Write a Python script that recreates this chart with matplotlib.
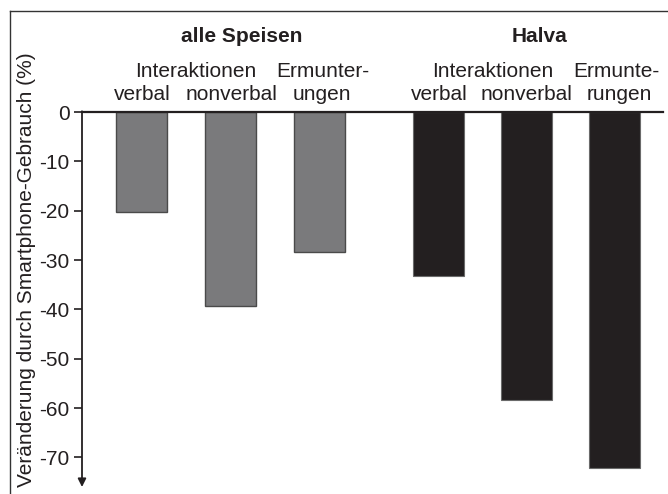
import matplotlib
matplotlib.use("Agg")
import matplotlib.pyplot as plt
from matplotlib.lines import Line2D

# data
groups = ["alle Speisen", "Halva"]
categories = ["verbal", "nonverbal", "Ermunterungen"]
alle_speisen = [-20.3, -39.4, -28.4]
halva = [-33.3, -58.4, -72.2]
yticks = [0, -10, -20, -30, -40, -50, -60, -70]
ylabel = "Veränderung durch Smartphone-Gebrauch (%)"

plt.rcParams["font.family"] = ["Liberation Sans", "DejaVu Sans"]
plt.rcParams["font.size"] = 15

fig = plt.figure(figsize=(6.68, 4.94), dpi=100)
W, H = 668, 494
ax = fig.add_axes([82 / W, 1 - 487 / H, (663 - 82) / W, (487 - 112) / H])

# bar positions (1 unit = 89 px)
pos_left = [0.669, 1.669, 2.669]
pos_right = [4.006, 4.994, 5.983]
bw = 0.573

ax.bar(pos_left, alle_speisen, width=bw, color="#7a7a7c", edgecolor="#4a4a4a", linewidth=1.0, zorder=2)
ax.bar(pos_right, halva, width=bw, color="#231f20", edgecolor="#6a6a6a", linewidth=0.8, zorder=2)

ax.set_xlim(0, 6.528)
ax.set_ylim(-76, 0)
ax.axhline(0, color="#231f20", lw=1.6, zorder=3, clip_on=False)

for s in ["top", "right", "bottom", "left"]:
    ax.spines[s].set_visible(False)
ax.set_xticks([])
ax.set_yticks(yticks)
ax.set_yticklabels([str(t) for t in yticks], color="#231f20")
ax.tick_params(axis="y", direction="out", length=6, width=1.2, color="#231f20", pad=3)

# y axis with arrow
ax.annotate("", xy=(0, -76), xytext=(0, 0.15), xycoords="data",
            arrowprops=dict(arrowstyle="-|>", color="#231f20", lw=1.3,
                            mutation_scale=12, shrinkA=0, shrinkB=0),
            annotation_clip=False)

# labels above bars (x in bar units, y in pixels from top)
def label(x, ypx, s, bold=False):
    xf = (82 + x * 89) / W
    fig.text(xf, 1 - ypx / H, s, ha="center", va="baseline",
             fontweight="bold" if bold else "normal", color="#231f20")

label(1.798, 42, groups[0], bold=True)
label(5.146, 42, groups[1], bold=True)

label(1.281, 77, "Interaktionen")
label(0.674, 100, "verbal")
label(1.685, 100, "nonverbal")
label(2.708, 77, "Ermunter-")
label(2.70, 100, "ungen")

label(4.618, 77, "Interaktionen")
label(4.017, 100, "verbal")
label(4.989, 100, "nonverbal")
label(6.0, 77, "Ermunte-")
label(6.034, 100, "rungen")

fig.text(27 / W, 1 - 270 / H, ylabel, rotation=90, ha="center", va="center", color="#231f20")

# frame around figure (cut at right and bottom)
fig.add_artist(Line2D([10 / W, 10 / W], [0, 1 - 11 / H], transform=fig.transFigure, color="#333333", lw=1.0))
fig.add_artist(Line2D([10 / W, 1], [1 - 11 / H, 1 - 11 / H], transform=fig.transFigure, color="#333333", lw=1.0))

fig.savefig("out.png", dpi=100)
